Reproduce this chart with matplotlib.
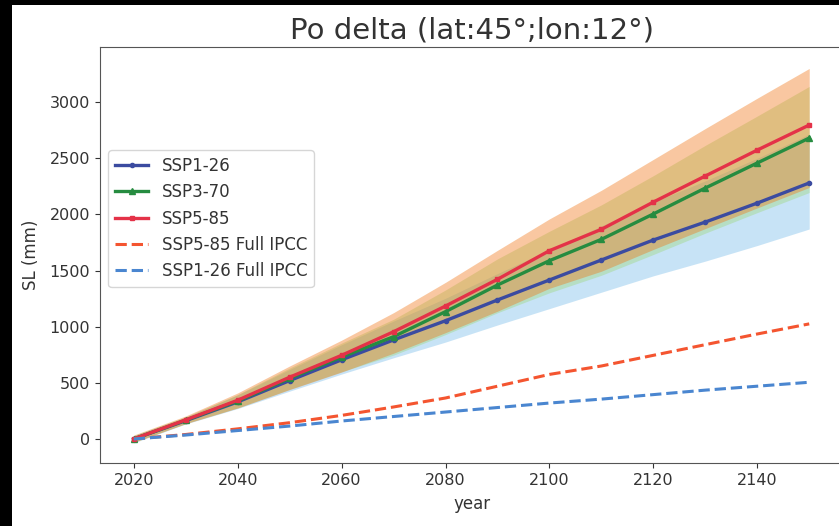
import matplotlib
matplotlib.use("Agg")
import matplotlib.pyplot as plt
from matplotlib.patches import Rectangle

years = [2020, 2030, 2040, 2050, 2060, 2070, 2080, 2090, 2100, 2110, 2120, 2130, 2140, 2150]

ssp126 = [0, 163, 330, 520, 705, 882, 1053, 1238, 1416, 1594, 1772, 1932, 2101, 2280]
ssp370 = [0, 168, 338, 540, 730, 911, 1134, 1371, 1588, 1778, 2004, 2235, 2458, 2680]
ssp585 = [0, 170, 345, 550, 745, 955, 1184, 1422, 1677, 1867, 2110, 2342, 2573, 2796]

ssp585_full = [0, 40, 90, 145, 210, 285, 365, 470, 575, 650, 745, 840, 935, 1025]
ssp126_full = [0, 35, 75, 115, 160, 200, 240, 280, 320, 355, 395, 435, 470, 505]

ssp126_hi = [30, 194, 393, 619, 839, 1050, 1253, 1473, 1685, 1897, 2109, 2299, 2500, 2715]
ssp126_lo = [-35, 134, 271, 426, 578, 723, 863, 1015, 1161, 1307, 1453, 1584, 1723, 1870]
ssp370_hi = [30, 197, 395, 632, 854, 1066, 1327, 1604, 1850, 2085, 2345, 2615, 2876, 3140]
ssp370_lo = [-30, 138, 277, 443, 599, 747, 930, 1124, 1302, 1458, 1643, 1833, 2016, 2195]
ssp585_hi = [35, 205, 410, 650, 880, 1125, 1395, 1680, 1960, 2215, 2490, 2765, 3035, 3300]
ssp585_lo = [-30, 136, 276, 440, 596, 764, 947, 1138, 1342, 1494, 1688, 1874, 2058, 2240]

labels = ["SSP1-26", "SSP3-70", "SSP5-85", "SSP5-85 Full IPCC", "SSP1-26 Full IPCC"]
title = "Po delta (lat:45°;lon:12°)"

W, H = 839, 526
fig = plt.figure(figsize=(W / 100, H / 100), dpi=100, facecolor="black")
fig.patches.append(Rectangle((12 / W, 0), 1 - 12 / W, (H - 5) / H,
                             transform=fig.transFigure, facecolor="white",
                             edgecolor="none", zorder=-10))

ax = fig.add_axes([100 / W, 63 / H, 743 / W, 416 / H])
ax.set_zorder(1)
ax.set_facecolor("white")

ax.fill_between(years, ssp126_lo, ssp126_hi, color=(117/255, 187/255, 233/255), alpha=0.4, lw=0)
ax.fill_between(years, ssp370_lo, ssp370_hi, color=(157/255, 215/255, 121/255), alpha=0.4, lw=0)
ax.fill_between(years, ssp585_lo, ssp585_hi, color=(240/255, 117/255, 20/255), alpha=0.4, lw=0)

ax.plot(years, ssp126, color="#3b4ba0", lw=2.4, marker=".", ms=6, label=labels[0])
ax.plot(years, ssp370, color="#268c40", lw=2.4, marker="^", ms=4, label=labels[1])
ax.plot(years, ssp585, color="#e43248", lw=2.4, marker="s", ms=3.5, label=labels[2])
ax.plot(years, ssp585_full, color="#f45530", lw=2.2, ls="--", label=labels[3])
ax.plot(years, ssp126_full, color="#4a86d0", lw=2.2, ls="--", label=labels[4])

ax.set_xlim(2013.5, 2156.5)
ax.set_ylim(-214, 3491)
ax.set_xticks(range(2020, 2141, 20))
ax.set_yticks(range(0, 3001, 500))

tc = "#333333"
ax.tick_params(labelsize=11.5, colors=tc)
for s in ax.spines.values():
    s.set_color("#555555")
ax.set_xlabel("year", fontsize=12, color=tc, labelpad=5)
ax.set_ylabel("SL (mm)", fontsize=12, color=tc, labelpad=7)
ax.set_title(title, fontsize=21, color=tc, pad=6)

leg = ax.legend(loc="upper left", bbox_to_anchor=(0.011, 0.752), borderaxespad=0,
                fontsize=12, handlelength=2.0, frameon=True)
for t in leg.get_texts():
    t.set_color(tc)

fig.savefig("out.png", dpi=100, facecolor=fig.get_facecolor())
